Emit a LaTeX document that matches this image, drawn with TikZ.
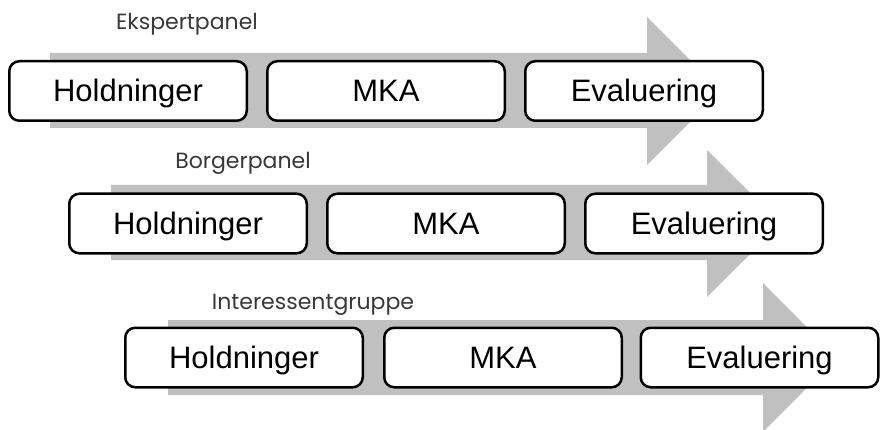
\documentclass[tikz,border=0pt]{standalone}
\usepackage{fontspec}
\setmainfont{Liberation Sans}
\newfontfamily\labelfont{Poppins}
\definecolor{arrowgray}{RGB}{192,192,192}
\begin{document}
\begin{tikzpicture}[x=1pt,y=-1pt,
  stage/.style={draw=black, line width=2.5pt, rounded corners=10pt, fill=white,
    minimum width=237.5pt, minimum height=59.5pt, inner sep=0pt,
    text height=22pt, text depth=0pt,
    font=\fontsize{31}{31}\selectfont, text=black},
  flow/.style={fill=arrowgray, draw=none},
  panel/.style={font=\labelfont\fontsize{22}{22}\selectfont, text=black!78, anchor=base}]
\useasboundingbox (0,0) rectangle (882,430);
% arrows
\fill[flow] (50,53) -- (647,53) -- (647,17) -- (721,91) -- (647,165) -- (647,128) -- (50,128) -- cycle;
\fill[flow] (111,185) -- (707,185) -- (707,150) -- (781,223.5) -- (707,297) -- (707,260) -- (111,260) -- cycle;
\fill[flow] (168,320) -- (763,320) -- (763,283) -- (837,357.5) -- (763,432) -- (763,395) -- (168,395) -- cycle;
% labels
\node[panel] (l1) at (187,30) {Ekspertpanel};
\node[panel] (l2) at (243,169) {Borgerpanel};
\node[panel] (l3) at (313,309) {Interessentgruppe};
% row 1
\node[stage] (a1) at (128,91) {Holdninger};
\node[stage] (a2) at (386,91) {MKA};
\node[stage] (a3) at (644,91) {Evaluering};
% row 2
\node[stage] (b1) at (188,223.5) {Holdninger};
\node[stage] (b2) at (446,223.5) {MKA};
\node[stage] (b3) at (704,223.5) {Evaluering};
% row 3
\node[stage] (c1) at (244,357.5) {Holdninger};
\node[stage] (c2) at (503,357.5) {MKA};
\node[stage] (c3) at (759.5,357.5) {Evaluering};
\end{tikzpicture}
\end{document}
